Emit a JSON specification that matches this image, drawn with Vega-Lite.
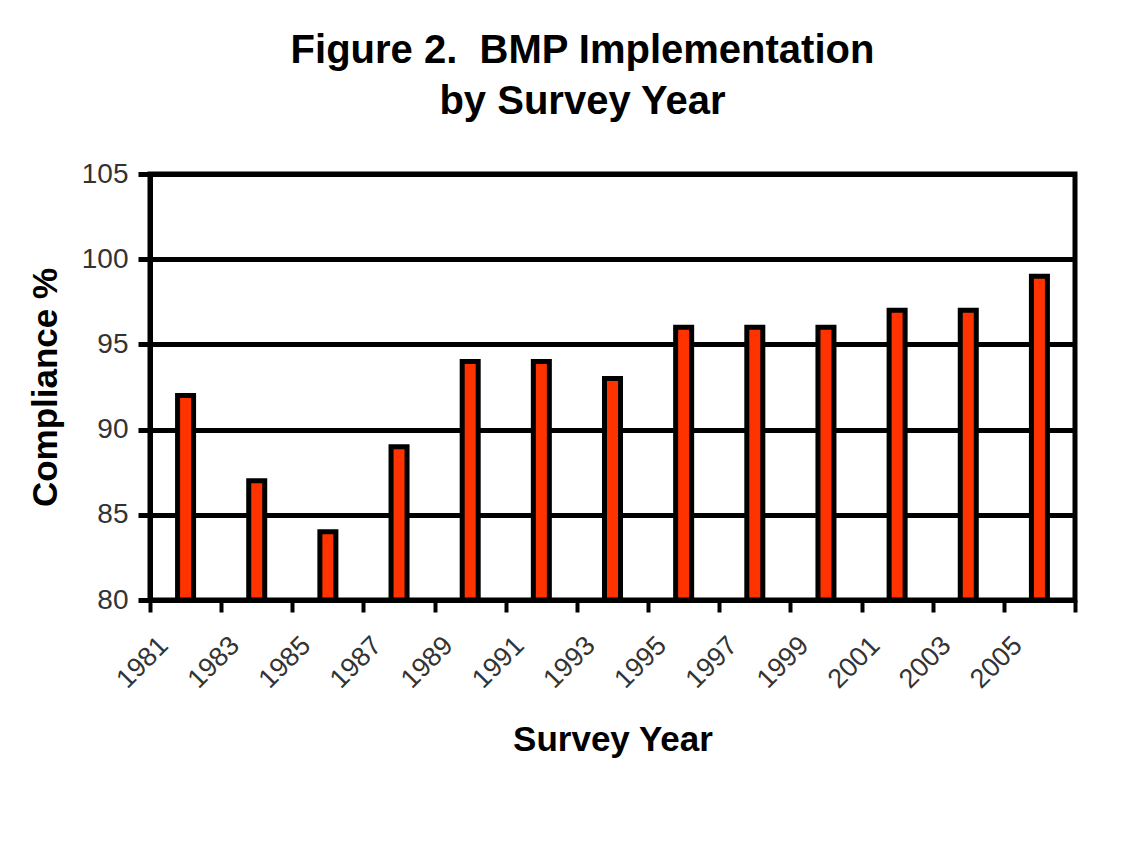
{
  "$schema": "https://vega.github.io/schema/vega-lite/v6.json",
  "width": 925,
  "height": 426,
  "autosize": {"type": "none"},
  "padding": {"left": 150, "top": 174, "right": 61, "bottom": 246},
  "background": "white",
  "title": {
    "text": ["Figure 2.\u00a0\u00a0BMP Implementation", "by Survey Year"],
    "font": "Liberation Sans",
    "fontSize": 40,
    "fontWeight": "bold",
    "color": "black",
    "anchor": "middle",
    "dx": -30,
    "offset": 38,
    "lineHeight": 51
  },
  "data": {
    "values": [
      {"year": "1981", "compliance": 92},
      {"year": "1983", "compliance": 87},
      {"year": "1985", "compliance": 84},
      {"year": "1987", "compliance": 89},
      {"year": "1989", "compliance": 94},
      {"year": "1991", "compliance": 94},
      {"year": "1993", "compliance": 93},
      {"year": "1995", "compliance": 96},
      {"year": "1997", "compliance": 96},
      {"year": "1999", "compliance": 96},
      {"year": "2001", "compliance": 97},
      {"year": "2003", "compliance": 97},
      {"year": "2005", "compliance": 99}
    ]
  },
  "mark": {"type": "bar", "fill": "#ff3300", "stroke": "black", "strokeWidth": 5, "width": {"band": 0.225}},
  "encoding": {
    "x": {
      "field": "year",
      "type": "ordinal",
      "scale": {"paddingInner": 0, "paddingOuter": 0},
      "axis": {
        "title": "Survey Year",
        "titleFont": "Liberation Sans",
        "titleFontSize": 35,
        "titleFontWeight": "bold",
        "titleColor": "black",
        "titlePadding": 30,
        "labelAngle": -45,
        "labelAlign": "right",
        "labelBaseline": "middle",
        "labelFont": "Liberation Sans",
        "labelFontSize": 27,
        "labelColor": "#333333",
        "labelPadding": 29,
        "labelOffset": -22,
        "tickBand": "extent",
        "ticks": true,
        "tickSize": 12,
        "tickWidth": 4,
        "tickColor": "black",
        "domain": true,
        "domainColor": "black",
        "domainWidth": 5,
        "grid": false
      }
    },
    "y": {
      "field": "compliance",
      "type": "quantitative",
      "scale": {"domain": [80, 105], "zero": false},
      "axis": {
        "title": "Compliance %",
        "titleFont": "Liberation Sans",
        "titleFontSize": 35,
        "titleFontWeight": "bold",
        "titleColor": "black",
        "titlePadding": 18,
        "values": [80, 85, 90, 95, 100, 105],
        "labelFont": "Liberation Sans",
        "labelFontSize": 28,
        "labelColor": "#333333",
        "labelPadding": 10,
        "tickSize": 12,
        "tickWidth": 5,
        "tickColor": "black",
        "domain": true,
        "domainColor": "black",
        "domainWidth": 5,
        "grid": true,
        "gridColor": "black",
        "gridWidth": 5,
        "gridOpacity": 1
      }
    },
    "y2": {"datum": 80}
  },
  "config": {"view": {"stroke": "black", "strokeWidth": 5}}
}
